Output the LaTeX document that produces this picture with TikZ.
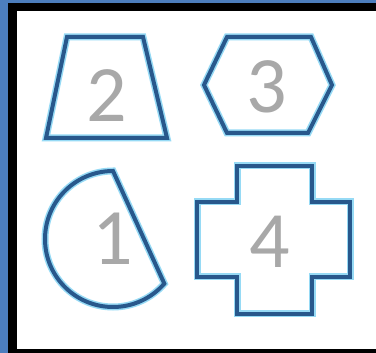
\documentclass[tikz,border=0pt]{standalone}
\usepackage{fontspec}
\setmainfont{Carlito}
\usetikzlibrary{positioning}

\definecolor{outlineblue}{RGB}{40,88,140}
\definecolor{glowblue}{RGB}{150,218,245}
\definecolor{bgblue}{RGB}{76,126,190}
\definecolor{digitgray}{RGB}{168,168,168}

\begin{document}
\begin{tikzpicture}[
    x=1pt,
    y=-1pt,
    outline/.style={
        draw=outlineblue,
        line width=4pt,
        line join=miter,
        preaction={draw=glowblue, line width=7pt}
    },
    digit/.style={
        text=digitgray,
        inner sep=0pt,
        font=\fontsize{80}{80}\selectfont
    }
]
\useasboundingbox (0,0) rectangle (376,353);

% ============================================================
% HINTERGRUND UND RAHMEN
% ============================================================
\fill[bgblue] (0,0) rectangle (376,353);
\fill[black] (8,3) rectangle (376,353);
\fill[white] (17,11) rectangle (376,349);

% ============================================================
% OBERE REIHE
% ============================================================
\draw[outline] (67,37) -- (143,37) -- (167,138) -- (46,138) -- cycle;
\node[digit] (two) at (107,96) {2};

\draw[outline] (204,85) -- (227,37) -- (311,37) -- (332,85)
    -- (308,133) -- (227,133) -- cycle;
\node[digit] (three) at (267,87) {3};

% ============================================================
% UNTERE REIHE
% ============================================================
\draw[outline] (113,171) arc[start angle=270, end angle=41, radius=68] -- cycle;
\node[digit] (one) at (113,239) {1};

\draw[outline] (237,166) -- (312,166) -- (312,202) -- (350,202)
    -- (350,277) -- (312,277) -- (312,314) -- (237,314)
    -- (237,277) -- (197,277) -- (197,202) -- (237,202) -- cycle;
\node[digit] (four) at (270,242) {4};

\end{tikzpicture}
\end{document}
